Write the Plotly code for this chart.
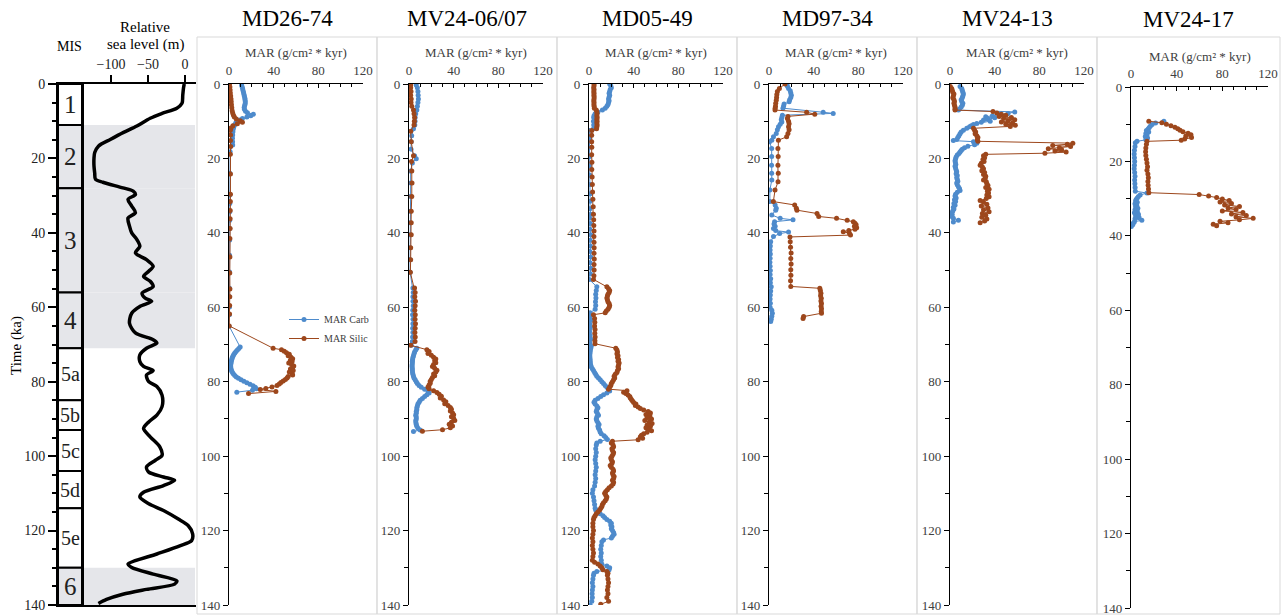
import plotly.graph_objects as go

W, H = 1283, 616

# ---------------- Marine isotope stages and sea level ----------------
mis_names = ["1", "2", "3", "4", "5a", "5b", "5c", "5d", "5e", "6"]
mis_bounds = [0, 11, 28, 56, 71, 85, 93, 104, 114, 130, 140]
mis_glacial = [False, True, True, True, False, False, False, False, False, True]

sl_age = [0, 1.1, 3, 5.2, 6.5, 7.9, 9.2, 11.3, 13, 14.9, 16.7, 18.4, 20, 22, 24, 25.6,
          26.4, 27.9, 28.8, 29.7, 31.0, 32.8, 34.6, 36.0, 38.2, 40.0, 41.8, 43.6, 45.4,
          47.2, 49.0, 50.3, 51.7, 53.0, 54.4, 56.2, 57.5, 58.4, 59.8, 61.6, 64.3, 66.9,
          68.7, 69.6, 71.0, 72.8, 74.6, 75.9, 77.0, 78.2, 80.0, 81.3, 83.6, 86.7, 89.0,
          90.8, 92.6, 94.8, 97.5, 99.8, 101.1, 102.9, 104.3, 105.6, 106.5, 107.9, 109.7,
          111.0, 112.8, 114.6, 116.9, 118.7, 120.9, 122.7, 124.1, 126.3, 129.0, 129.9,
          131.7, 133.5, 134.4, 135.8, 137.1, 138.5, 139.6]
sl_level = [-1, -2, -3, -4, -11, -31, -47, -65, -83, -101, -117, -122, -123, -123, -122,
            -121, -111, -84, -70, -67, -77, -72, -67, -77, -75, -72, -65, -61, -67, -52,
            -43, -49, -56, -47, -43, -58, -54, -45, -61, -72, -75, -67, -43, -38, -52,
            -61, -61, -56, -43, -52, -49, -38, -31, -31, -38, -49, -56, -47, -34, -31,
            -40, -52, -49, -29, -14, -29, -56, -61, -49, -29, -9, 4.5, 10.4, 9, -7, -38,
            -77, -72, -43, -11, -14, -52, -84, -106, -117]

# ---------------- Mass accumulation rates (age ka, MAR) ----------------
md2674_carb = [
    (0.3, 11.3), (0.8, 11.8), (1.3, 12.2), (1.8, 12.6), (2.3, 13.0), (2.8, 13.4), (3.3, 13.8),
    (3.8, 14.2), (4.3, 14.4), (4.8, 14.6), (5.3, 14.5), (5.8, 14.0), (6.3, 13.6), (6.8, 13.8),
    (7.3, 14.8), (7.7, 16.5), (8.1, 21.8), (8.5, 19.5), (8.9, 16.0), (9.3, 12.0), (9.7, 9.5),
    (10.1, 7.5), (10.5, 6.0), (11.0, 5.0), (11.5, 4.3), (12.0, 3.9), (12.8, 3.5), (13.7, 3.3),
    (14.6, 3.1), (15.5, 3.2), (16.4, 3.3), (18.2, 1.0), (24.0, 0.8), (29.8, 0.7), (32.1, 0.7),
    (34.3, 0.7), (36.6, 0.6), (38.8, 0.6), (41.9, 0.6), (46.0, 0.5), (50.5, 0.5), (54.9, 0.5),
    (57.2, 0.4), (59.9, 0.4), (62.0, 0.3), (65.0, 0.0), (70.7, 10.0), (71.1, 8.8), (71.5, 7.5),
    (71.9, 6.3), (72.3, 5.2), (72.7, 4.3), (73.1, 3.6), (73.5, 3.0), (73.9, 2.6), (74.3, 2.2),
    (74.7, 1.9), (75.1, 1.7), (75.5, 1.5), (75.9, 1.5), (76.3, 1.6), (76.7, 1.9), (77.1, 2.4),
    (77.5, 3.1), (77.9, 4.0), (78.3, 5.2), (78.7, 6.6), (79.1, 8.5), (79.5, 10.8), (79.9, 13.3),
    (80.3, 16.0), (80.7, 18.8), (81.1, 21.5), (81.5, 23.5), (81.9, 24.5), (82.3, 21.0), (82.8, 7.0)]
md2674_silic = [
    (0.0, 0.5), (0.8, 0.8), (1.6, 1.0), (2.4, 1.2), (3.2, 1.5), (4.0, 1.8), (4.8, 2.0), (5.6, 2.2),
    (6.4, 2.5), (7.2, 2.8), (7.8, 3.3), (8.4, 4.0), (8.9, 4.8), (9.4, 6.5), (9.9, 10.0),
    (10.3, 12.0), (10.7, 7.5), (11.2, 3.5), (11.8, 1.8), (12.4, 1.2), (13.7, 1.4), (15.2, 1.3),
    (16.8, 1.5), (18.9, 1.2), (24.2, 1.3), (29.6, 1.3), (31.6, 1.2), (34.0, 1.1), (36.2, 1.0),
    (38.8, 1.0), (41.5, 0.8), (46.5, 0.8), (50.8, 0.7), (55.1, 0.8), (57.2, 0.7), (59.5, 0.6),
    (61.8, 0.5), (65.0, 0.2), (71.0, 39.5), (71.4, 47.0), (71.8, 49.5), (72.2, 51.5), (72.6, 54.0),
    (73.0, 53.0), (73.4, 55.5), (73.8, 57.0), (74.2, 55.0), (74.6, 56.5), (75.0, 53.5), (75.4, 56.0),
    (75.8, 58.0), (76.2, 57.0), (76.6, 55.0), (77.0, 57.5), (77.4, 54.0), (77.8, 56.5), (78.2, 57.0),
    (78.6, 53.0), (79.0, 52.0), (79.4, 50.5), (79.8, 48.5), (80.2, 46.5), (80.6, 45.0), (81.0, 43.0),
    (81.4, 38.5), (81.8, 33.0), (82.1, 28.0), (82.6, 42.0), (83.2, 17.5)]

mv2406_carb = [
    (0.3, 6.5), (1.0, 7.5), (2.0, 8.0), (3.0, 8.2), (4.0, 8.4), (5.0, 8.0), (6.0, 7.5), (7.0, 7.0),
    (8.0, 6.0), (9.0, 5.5), (10.0, 5.4), (11.0, 5.2), (12.0, 4.0), (13.9, 2.4), (15.5, 2.0),
    (17.5, 1.8), (19.3, 5.0), (20.1, 6.5), (21.2, 3.0), (23.4, 1.5), (26.6, 1.5), (30.2, 1.3),
    (34.2, 1.2), (37.3, 1.2), (40.5, 1.2), (44.0, 1.0), (47.2, 1.0), (50.6, 1.0), (54.8, 3.5),
    (56.0, 3.8), (57.2, 3.5), (58.4, 3.6), (59.6, 3.8), (60.8, 3.4), (62.0, 3.2), (63.2, 3.6),
    (64.4, 3.5), (65.6, 3.3), (66.8, 3.5), (68.0, 3.2), (69.2, 3.0), (70.2, 2.0), (71.0, 7.0),
    (71.5, 6.0), (72.0, 5.0), (72.5, 4.5), (73.0, 4.0), (73.5, 3.5), (74.0, 3.2), (74.5, 3.0),
    (75.0, 3.0), (75.5, 2.8), (76.0, 2.8), (76.5, 3.0), (77.0, 3.0), (77.5, 3.2), (78.0, 3.5),
    (78.5, 4.0), (79.0, 4.5), (79.5, 5.5), (80.0, 6.5), (80.5, 7.5), (81.0, 9.0), (81.5, 11.0),
    (82.0, 14.0), (82.5, 17.0), (83.0, 18.0), (83.5, 16.0), (84.0, 14.0), (84.5, 12.0), (85.0, 10.0),
    (85.5, 9.0), (86.0, 8.0), (86.5, 7.5), (87.0, 7.0), (87.5, 7.0), (88.0, 6.5), (88.5, 6.5),
    (89.0, 6.0), (89.5, 6.5), (90.0, 6.5), (90.5, 6.0), (91.0, 6.2), (91.5, 6.5), (92.0, 7.0),
    (92.5, 8.0), (93.0, 10.0), (93.4, 4.0)]
mv2406_silic = [
    (0.3, 1.5), (1.0, 1.5), (2.0, 1.8), (3.0, 1.5), (4.0, 2.0), (5.0, 1.8), (6.0, 2.5), (7.0, 4.0),
    (8.0, 4.5), (9.0, 5.0), (10.0, 4.8), (11.0, 4.5), (12.7, 1.5), (15.5, 2.0), (19.3, 4.0),
    (20.8, 2.2), (23.4, 2.5), (26.6, 2.7), (30.2, 2.5), (34.2, 2.0), (37.3, 2.0), (40.5, 2.0),
    (44.0, 1.5), (47.2, 1.5), (50.6, 1.2), (54.8, 5.0), (56.0, 5.5), (57.2, 5.2), (58.4, 5.8),
    (59.6, 5.5), (60.8, 5.2), (62.0, 5.6), (63.2, 5.4), (64.4, 5.8), (65.6, 5.5), (66.8, 5.3),
    (68.0, 5.6), (69.2, 5.4), (70.2, 1.5), (71.4, 16.0), (71.9, 18.0), (72.4, 17.0), (72.9, 20.0),
    (73.4, 22.0), (73.9, 24.0), (74.4, 23.0), (74.9, 24.0), (75.4, 22.0), (75.9, 21.0), (76.4, 23.0),
    (76.9, 25.0), (77.4, 24.0), (77.9, 22.0), (78.4, 23.0), (78.9, 21.0), (79.4, 20.0), (79.9, 19.0),
    (80.4, 19.0), (80.9, 18.0), (81.4, 17.0), (81.9, 18.0), (82.4, 22.0), (82.9, 25.0), (83.4, 27.0),
    (83.9, 29.0), (84.4, 28.0), (84.9, 31.0), (85.4, 33.0), (85.9, 32.0), (86.4, 35.0), (86.9, 37.0),
    (87.4, 38.0), (87.9, 37.0), (88.4, 39.0), (88.9, 40.0), (89.4, 38.0), (89.9, 40.0), (90.4, 41.0),
    (90.9, 38.0), (91.4, 36.0), (91.9, 39.0), (92.4, 37.0), (92.9, 30.0), (93.3, 12.0)]

md0549_carb = [
    (0.0, 18.5), (0.5, 19.5), (1.0, 20.0), (1.5, 19.0), (2.0, 18.5), (2.5, 18.0), (3.0, 18.5),
    (3.5, 18.0), (4.0, 17.5), (4.5, 18.0), (5.0, 17.5), (5.5, 17.0), (6.0, 16.0), (6.5, 14.5),
    (7.0, 12.0), (7.5, 8.0), (8.0, 5.5), (8.5, 4.5), (9.0, 4.2), (10.0, 4.0), (11.0, 4.2),
    (12.0, 4.0), (12.5, 0.3), (14.5, 0.5), (17.0, 0.5), (19.5, 0.6), (22.0, 0.6), (24.5, 0.8),
    (27.0, 1.0), (29.5, 1.2), (31.5, 1.0), (33.5, 0.8), (35.0, 1.5), (36.0, 0.5), (37.5, 1.2),
    (39.0, 0.8), (40.5, 1.5), (42.0, 1.0), (43.5, 1.2), (45.0, 0.8), (46.5, 1.5), (48.0, 1.0),
    (49.5, 1.5), (51.0, 1.2), (52.5, 0.2), (54.5, 7.0), (55.5, 6.5), (56.5, 6.0), (57.5, 6.2),
    (58.5, 5.8), (59.5, 6.0), (60.5, 5.5), (61.5, 1.0), (62.5, 0.8), (63.5, 1.5), (64.5, 0.8),
    (65.5, 1.2), (66.5, 0.6), (67.5, 1.0), (68.5, 1.5), (69.5, 0.8), (70.5, 2.0), (71.0, 1.5),
    (71.5, 1.2), (72.0, 1.0), (72.5, 0.8), (73.0, 0.7), (73.5, 0.8), (74.0, 1.0), (74.5, 1.0),
    (75.0, 1.2), (75.5, 1.5), (76.0, 2.0), (76.5, 3.0), (77.0, 4.0), (77.5, 5.0), (78.0, 6.0),
    (78.5, 7.0), (79.0, 8.5), (79.5, 10.0), (80.0, 11.5), (80.5, 13.0), (81.0, 14.5), (81.5, 16.0),
    (82.0, 17.5), (82.5, 18.5), (83.0, 16.0), (83.5, 13.0), (84.0, 10.5), (84.5, 8.0), (85.0, 5.5),
    (85.5, 4.5), (86.0, 5.5), (86.5, 7.0), (87.0, 8.0), (87.5, 7.0), (88.0, 6.5), (88.5, 7.5),
    (89.0, 8.5), (89.5, 7.0), (90.0, 6.5), (90.5, 7.0), (91.0, 8.0), (91.5, 9.0), (92.0, 8.0),
    (92.5, 8.5), (93.0, 9.5), (93.5, 10.0), (94.0, 11.0), (94.5, 13.5), (95.0, 15.0), (95.5, 16.5),
    (96.0, 10.0), (96.5, 7.0), (97.0, 6.5), (98.0, 6.0), (99.0, 6.5), (100.0, 6.0), (101.0, 5.5),
    (102.0, 6.0), (103.0, 6.5), (104.0, 6.0), (105.0, 5.5), (106.0, 6.0), (107.0, 5.5), (108.0, 5.0),
    (109.0, 3.5), (110.0, 3.0), (111.0, 4.0), (112.0, 4.5), (113.0, 5.0), (114.0, 5.5), (114.5, 6.0),
    (115.0, 8.0), (115.5, 10.0), (116.0, 12.5), (116.5, 14.0), (117.0, 16.0), (117.5, 18.5),
    (118.0, 20.0), (118.5, 19.5), (119.0, 20.5), (119.5, 20.0), (120.0, 21.0), (120.5, 22.0),
    (121.0, 22.5), (121.5, 21.0), (122.0, 20.0), (122.5, 13.0), (123.0, 11.5), (124.0, 11.0),
    (125.0, 10.5), (126.0, 11.0), (127.0, 10.5), (128.0, 11.0), (129.0, 11.5), (129.5, 16.0),
    (130.0, 18.5), (130.5, 18.0), (131.0, 7.0), (131.5, 4.5), (132.0, 4.0), (133.0, 3.5),
    (134.0, 3.0), (135.0, 3.5), (136.0, 3.0), (137.0, 2.8), (138.0, 3.0), (139.0, 2.5), (140.0, 1.0)]
md0549_silic = [
    (0.0, 4.5), (0.5, 4.5), (1.0, 4.2), (1.5, 4.5), (2.0, 4.3), (2.5, 4.5), (3.0, 4.4), (3.5, 4.6),
    (4.0, 4.5), (4.5, 4.3), (5.0, 4.5), (5.5, 4.4), (6.0, 4.6), (6.5, 4.8), (7.0, 6.5), (7.5, 7.0),
    (8.0, 7.2), (8.5, 7.0), (9.0, 7.3), (9.5, 7.0), (10.0, 7.2), (10.5, 7.0), (11.0, 7.3),
    (11.5, 7.0), (12.0, 6.8), (12.5, 2.5), (13.8, 2.4), (15.5, 2.4), (17.0, 2.5), (19.0, 2.4),
    (21.0, 2.6), (23.0, 2.5), (25.0, 2.8), (27.0, 3.0), (29.0, 3.2), (31.0, 3.5), (33.0, 3.8),
    (35.0, 4.0), (36.5, 4.2), (38.0, 4.3), (39.5, 4.5), (41.0, 4.4), (42.5, 4.5), (44.0, 4.6),
    (45.5, 4.5), (47.0, 4.7), (48.5, 4.5), (50.0, 4.6), (51.5, 4.4), (52.5, 4.0), (54.5, 16.0),
    (55.0, 17.5), (55.5, 18.5), (56.0, 18.0), (56.5, 17.0), (57.0, 16.5), (57.5, 16.0), (58.0, 16.5),
    (58.5, 17.0), (59.0, 18.0), (59.5, 18.5), (60.0, 18.0), (60.5, 17.0), (61.0, 15.5), (61.5, 14.5),
    (62.0, 4.0), (63.0, 5.0), (64.0, 5.2), (65.0, 5.0), (66.0, 5.4), (67.0, 5.2), (68.0, 5.5),
    (69.0, 5.3), (69.8, 5.4), (71.0, 24.0), (71.5, 25.0), (72.0, 25.5), (72.5, 25.0), (73.0, 26.0),
    (73.5, 25.5), (74.0, 26.5), (74.5, 26.0), (75.0, 27.0), (75.5, 26.5), (76.0, 26.0), (76.5, 26.5),
    (77.0, 25.5), (77.5, 25.0), (78.0, 23.5), (78.5, 22.5), (79.0, 23.0), (79.5, 22.0), (80.0, 21.0),
    (80.5, 20.0), (81.0, 19.5), (81.5, 18.5), (82.0, 17.5), (82.4, 34.0), (82.8, 31.0), (83.2, 33.0),
    (83.6, 35.0), (84.0, 36.5), (84.4, 37.0), (84.8, 38.0), (85.2, 39.0), (85.6, 40.0), (86.0, 42.0),
    (86.4, 41.5), (86.8, 44.0), (87.2, 46.0), (87.6, 49.0), (88.0, 53.0), (88.4, 55.0), (88.8, 51.0),
    (89.2, 54.5), (89.6, 52.0), (90.0, 56.0), (90.4, 50.0), (90.8, 54.0), (91.2, 56.5), (91.6, 52.0),
    (92.0, 55.0), (92.4, 51.0), (92.8, 54.0), (93.2, 56.0), (93.6, 52.0), (94.0, 49.0), (94.4, 47.0),
    (94.8, 46.0), (95.2, 48.0), (95.6, 44.0), (96.0, 21.0), (96.5, 20.0), (97.0, 21.5), (97.5, 22.0),
    (98.0, 20.5), (98.5, 21.0), (99.0, 22.0), (99.5, 21.5), (100.0, 20.5), (100.5, 19.5),
    (101.0, 20.0), (101.5, 21.0), (102.0, 20.5), (102.5, 19.0), (103.0, 20.0), (103.5, 21.5),
    (104.0, 22.0), (104.5, 21.0), (105.0, 21.5), (105.5, 22.5), (106.0, 22.0), (106.5, 21.0),
    (107.0, 22.0), (107.5, 21.5), (108.0, 20.0), (108.5, 18.0), (109.0, 16.5), (109.5, 15.0),
    (110.0, 14.0), (110.5, 15.0), (111.0, 16.0), (111.5, 15.5), (112.0, 14.5), (112.5, 13.0),
    (113.0, 12.0), (113.5, 11.5), (114.0, 10.5), (114.5, 9.5), (115.0, 8.0), (115.5, 6.5),
    (116.0, 5.5), (116.5, 4.5), (117.0, 4.0), (118.0, 3.5), (119.0, 3.5), (120.0, 4.0), (121.0, 3.5),
    (122.0, 3.0), (123.0, 3.5), (124.0, 3.0), (125.0, 3.5), (126.0, 4.0), (127.0, 3.5), (128.0, 3.0),
    (128.5, 5.0), (129.0, 8.0), (129.5, 10.0), (130.0, 11.5), (130.5, 12.5), (131.0, 16.0),
    (131.5, 17.0), (132.0, 16.5), (133.0, 17.0), (134.0, 17.5), (135.0, 17.0), (136.0, 16.5),
    (137.0, 17.0), (138.0, 16.0), (139.0, 17.5), (139.8, 10.5)]

md9734_carb = [
    (0.0, 16.0), (0.6, 16.5), (1.2, 17.5), (1.8, 19.0), (2.4, 19.5), (3.0, 20.0), (3.6, 19.5),
    (4.2, 18.5), (4.8, 18.0), (5.4, 13.5), (6.0, 13.0), (6.5, 12.5), (7.6, 48.5), (7.9, 57.5),
    (8.4, 12.0), (9.0, 11.5), (9.6, 11.0), (10.2, 11.5), (10.8, 10.0), (11.5, 8.5), (12.3, 7.5),
    (13.3, 6.5), (14.2, 4.0), (15.1, 2.5), (15.5, 0.5), (17.3, 2.4), (19.5, 2.4), (21.8, 2.3),
    (24.0, 2.4), (25.8, 2.5), (28.5, 0.8), (31.6, 0.8), (32.5, 5.5), (33.4, 6.5), (33.9, 6.0),
    (35.2, 2.5), (36.1, 10.0), (36.5, 21.5), (37.0, 5.0), (37.6, 4.5), (38.2, 5.5), (38.8, 4.0),
    (39.4, 6.0), (39.8, 17.5), (40.2, 9.5), (41.0, 4.0), (42.4, 1.5), (43.5, 1.2), (44.6, 1.0),
    (45.7, 1.2), (46.8, 1.0), (47.9, 0.8), (49.0, 1.0), (50.1, 1.2), (51.2, 1.0), (52.3, 1.5),
    (53.4, 1.2), (54.5, 2.0), (55.6, 1.5), (56.7, 1.2), (57.8, 1.0), (58.9, 1.2), (60.0, 1.0),
    (60.8, 2.5), (61.6, 3.0), (62.4, 2.5), (63.2, 2.0), (63.8, 1.5)]
md9734_silic = [
    (0.0, 14.3), (1.2, 9.3), (2.0, 7.5), (2.8, 7.0), (3.6, 6.8), (4.4, 6.5), (5.2, 6.0), (6.0, 5.8),
    (6.5, 5.5), (7.0, 5.4), (7.6, 33.7), (8.1, 41.0), (8.7, 17.0), (9.3, 16.5), (10.0, 17.5),
    (10.7, 18.0), (11.5, 17.5), (12.3, 18.0), (13.3, 17.0), (14.2, 15.8), (15.1, 8.4), (17.3, 8.0),
    (19.5, 8.2), (21.8, 8.0), (24.0, 8.3), (26.3, 8.1), (28.5, 5.4), (31.6, 3.9), (32.5, 23.0),
    (33.4, 24.5), (33.9, 25.0), (34.8, 43.0), (35.6, 44.5), (36.1, 60.5), (36.6, 70.0),
    (37.0, 75.5), (37.4, 77.0), (37.8, 78.0), (38.2, 76.5), (38.6, 78.5), (39.0, 77.0),
    (39.4, 71.5), (39.7, 66.5), (40.1, 72.0), (40.6, 73.0), (41.1, 18.8), (42.4, 19.0),
    (43.9, 19.3), (45.4, 19.8), (46.9, 19.5), (48.4, 19.8), (49.9, 19.5), (51.4, 19.6),
    (52.9, 19.3), (54.4, 19.5), (54.9, 45.5), (55.5, 46.0), (56.2, 46.5), (56.9, 46.2),
    (57.6, 46.8), (58.3, 46.5), (59.0, 47.0), (59.7, 46.6), (60.4, 47.0), (61.1, 46.8),
    (61.6, 47.0), (62.5, 31.0), (63.0, 30.5)]

mv2413_carb = [
    (0.7, 9.0), (1.2, 10.5), (1.7, 11.0), (2.2, 11.5), (2.7, 12.0), (3.2, 11.5), (3.7, 11.0),
    (4.2, 10.0), (4.7, 10.5), (5.2, 11.5), (5.7, 11.0), (6.2, 10.0), (6.7, 8.5), (7.0, 7.5),
    (7.5, 58.0), (7.9, 52.0), (8.2, 44.0), (8.5, 38.0), (8.8, 32.0), (9.1, 40.0), (9.4, 34.0),
    (9.7, 30.0), (10.0, 36.0), (10.3, 28.0), (10.6, 24.0), (10.9, 21.0), (11.2, 19.0), (11.5, 17.5),
    (11.9, 15.0), (12.4, 12.0), (12.9, 10.0), (13.4, 9.0), (13.9, 8.0), (14.4, 7.0), (14.9, 6.0),
    (15.2, 3.0), (15.5, 21.0), (15.9, 24.0), (16.3, 22.0), (16.7, 16.0), (17.1, 13.0), (17.5, 11.0),
    (17.9, 10.0), (18.3, 9.0), (18.7, 8.0), (19.1, 6.5), (19.6, 5.5), (20.1, 5.0), (20.6, 4.5),
    (21.1, 4.8), (21.6, 5.2), (22.1, 4.5), (22.6, 5.0), (23.1, 5.5), (23.6, 6.0), (24.1, 5.5),
    (24.6, 6.5), (25.1, 6.0), (25.6, 6.5), (26.1, 7.0), (26.6, 6.0), (27.1, 6.5), (27.6, 7.5),
    (28.1, 8.5), (28.6, 9.0), (29.1, 6.5), (29.6, 5.0), (30.1, 4.5), (30.6, 5.5), (31.1, 4.0),
    (31.6, 5.0), (32.1, 3.5), (32.6, 4.5), (33.1, 3.0), (33.6, 3.5), (34.1, 2.5), (34.6, 1.5),
    (35.1, 2.0), (35.6, 1.5), (36.1, 3.0), (36.6, 7.5), (37.1, 3.0)]
mv2413_silic = [
    (0.7, 0.3), (1.2, 1.5), (1.7, 2.0), (2.2, 2.5), (2.7, 3.5), (3.2, 3.0), (3.7, 2.5), (4.2, 3.5),
    (4.7, 4.0), (5.2, 3.5), (5.7, 4.0), (6.2, 4.5), (6.7, 4.5), (7.0, 4.5), (7.4, 38.5), (7.8, 42.0),
    (8.1, 46.0), (8.4, 50.0), (8.7, 44.0), (9.0, 55.0), (9.3, 48.0), (9.6, 58.0), (9.9, 52.0),
    (10.2, 46.0), (10.5, 56.0), (10.8, 50.0), (11.1, 58.5), (11.4, 54.0), (11.9, 21.0), (12.4, 22.0),
    (12.9, 23.0), (13.4, 22.5), (13.9, 24.0), (14.4, 25.0), (14.9, 24.5), (15.4, 25.0),
    (15.9, 110.0), (16.2, 105.0), (16.5, 92.0), (16.8, 108.0), (17.1, 98.0), (17.4, 88.0),
    (17.7, 100.0), (18.0, 94.0), (18.3, 104.0), (18.6, 85.0), (18.9, 32.0), (19.3, 30.0),
    (19.8, 31.0), (20.3, 29.5), (20.8, 30.5), (21.3, 28.0), (21.8, 27.0), (22.3, 29.0), (22.8, 30.0),
    (23.3, 28.5), (23.8, 31.0), (24.3, 30.0), (24.8, 32.0), (25.3, 31.5), (25.8, 30.0), (26.3, 32.5),
    (26.8, 33.0), (27.3, 34.0), (27.8, 32.0), (28.3, 35.0), (28.8, 33.5), (29.3, 34.5), (29.8, 33.0),
    (30.3, 35.0), (30.8, 32.5), (31.3, 27.0), (31.8, 30.0), (32.3, 33.0), (32.8, 28.0), (33.3, 34.0),
    (33.8, 30.0), (34.3, 35.0), (34.8, 29.0), (35.3, 32.0), (35.8, 28.5), (36.3, 33.0), (36.8, 31.0),
    (37.3, 27.0)]

mv2417_carb = [
    (9.2, 28.8), (9.7, 21.5), (10.1, 18.5), (10.5, 17.0), (10.9, 16.0), (11.3, 15.0), (11.7, 13.5),
    (12.1, 15.5), (12.5, 13.0), (12.9, 14.0), (13.3, 12.5), (13.7, 14.5), (14.2, 13.0), (14.6, 5.3),
    (15.0, 3.8), (16.0, 3.5), (17.0, 3.0), (18.0, 2.8), (19.0, 3.0), (20.0, 3.2), (21.0, 3.0),
    (22.0, 2.8), (23.0, 3.2), (24.0, 3.5), (25.0, 3.2), (26.0, 3.4), (27.0, 3.6), (28.0, 3.8),
    (28.5, 14.0), (29.0, 8.0), (29.4, 6.5), (29.8, 5.5), (30.2, 4.5), (30.6, 4.0), (31.0, 5.5),
    (31.4, 3.5), (31.8, 5.0), (32.2, 4.0), (32.6, 6.0), (33.0, 3.5), (33.4, 5.5), (33.8, 3.0),
    (34.2, 6.5), (34.6, 4.0), (35.0, 7.0), (35.4, 3.5), (35.8, 9.5), (36.2, 3.0), (36.6, 2.0),
    (37.0, 1.5), (37.5, 0.3)]
mv2417_silic = [
    (9.2, 15.6), (9.6, 27.0), (10.0, 31.0), (10.4, 35.0), (10.8, 38.5), (11.2, 41.0), (11.6, 43.0),
    (12.0, 45.5), (12.4, 50.0), (12.8, 52.5), (13.2, 48.0), (13.6, 53.0), (14.0, 47.0), (14.3, 44.0),
    (14.6, 14.0), (15.4, 13.5), (16.4, 13.0), (17.4, 12.8), (18.4, 13.0), (19.4, 13.5), (20.4, 14.0),
    (21.4, 14.5), (22.4, 14.0), (23.4, 14.8), (24.4, 15.2), (25.4, 14.8), (26.4, 15.0), (27.4, 15.3),
    (28.4, 15.6), (28.9, 59.7), (29.3, 68.0), (29.7, 75.0), (30.1, 80.0), (30.5, 86.0), (30.9, 78.0),
    (31.3, 88.0), (31.7, 82.0), (32.1, 95.0), (32.5, 85.0), (32.9, 92.0), (33.3, 80.0), (33.7, 98.0),
    (34.1, 88.0), (34.5, 101.0), (34.9, 92.0), (35.3, 107.0), (35.7, 95.0), (36.1, 78.0),
    (36.5, 85.0), (36.9, 72.0), (37.3, 75.0)]

core_names = ["MD26-74", "MV24-06/07", "MD05-49", "MD97-34", "MV24-13", "MV24-17"]
core_carb = [md2674_carb, mv2406_carb, md0549_carb, md9734_carb, mv2413_carb, mv2417_carb]
core_silic = [md2674_silic, mv2406_silic, md0549_silic, md9734_silic, mv2413_silic, mv2417_silic]

# ---------------- styling and geometry (pixels) ----------------
FONT = "Liberation Serif"
BLUE = "#4e8bcc"
BROWN = "#9d471c"
GRAY = "#e5e6ea"
FRAME = "#d9d9d9"
TICKC = "#404040"

def fx(px):
    return px / W

def fy(py):
    return 1 - py / H

# panel axis geometry: (x of MAR=0, x of MAR=120, y top, y bottom)
panel_geom = [(229, 363, 84, 605), (409, 543, 84, 605), (589, 723, 84, 605),
              (769, 903, 84, 605), (950, 1084, 84, 605), (1131, 1268, 87, 608)]
frame_x = [197, 377, 557, 737, 917, 1097, 1280]

fig = go.Figure()

# sea level curve
fig.add_trace(go.Scatter(x=sl_level, y=sl_age, mode="lines", xaxis="x", yaxis="y",
                         line=dict(color="black", width=3.5, shape="spline", smoothing=0.8),
                         showlegend=False, hoverinfo="skip"))

layout = dict(
    template="none",
    width=W, height=H, autosize=False,
    margin=dict(l=0, r=0, t=0, b=0, pad=0, autoexpand=False),
    paper_bgcolor="white", plot_bgcolor="white",
    font=dict(family=FONT, color="black"),
    showlegend=True,
    legend=dict(x=fx(284), y=fy(305), xanchor="left", yanchor="top",
                font=dict(family=FONT, size=10, color=TICKC),
                bgcolor="rgba(0,0,0,0)", itemwidth=30, tracegroupgap=0),
)

# sea level axis
layout["xaxis"] = dict(domain=[fx(82), fx(196)], anchor="y", side="top",
                       range=[-139.2, 14.9], tick0=0, dtick=50, automargin=False,
                       ticks="outside", ticklen=7, tickwidth=2, tickcolor="black",
                       showline=True, linewidth=2, linecolor="black", mirror=True,
                       showgrid=False, zeroline=False,
                       tickfont=dict(family=FONT, size=14, color="#222"))
# MIS column axis
layout["xaxis2"] = dict(domain=[fx(58), fx(82)], anchor="y", side="top", range=[0, 1],
                        showticklabels=False, ticks="", showline=True, linewidth=2,
                        automargin=False,
                        linecolor="black", mirror=True, showgrid=False, zeroline=False)
layout["yaxis"] = dict(domain=[fy(605), fy(84)], anchor="x2", range=[140, 0],
                       tick0=0, dtick=20, ticks="outside", ticklen=8, tickwidth=1.5,
                       tickcolor="black", automargin=False,
                       minor=dict(dtick=5, tick0=0, ticks="outside", ticklen=4,
                                  tickwidth=1.5, tickcolor="black"),
                       showline=True, linewidth=2, linecolor="black", mirror=True,
                       showgrid=False, zeroline=False,
                       tickfont=dict(family=FONT, size=14, color="#222"))

for i, (name, carb, silic) in enumerate(zip(core_names, core_carb, core_silic)):
    k = i + 3
    x0, x1, yt, yb = panel_geom[i]
    layout[f"xaxis{k}"] = dict(domain=[fx(x0), fx(x1)], anchor=f"y{k}", side="top",
                               range=[0, 120], tick0=0, dtick=40, automargin=False,
                               ticks="inside", ticklen=4, tickwidth=1, tickcolor="black",
                               minor=dict(dtick=10, tick0=0, ticks="inside", ticklen=3,
                                          tickwidth=1, tickcolor="black"),
                               showline=True, linewidth=1.3, linecolor="black",
                               showgrid=False, zeroline=False, ticklabelstandoff=3,
                               tickfont=dict(family=FONT, size=13, color=TICKC))
    layout[f"yaxis{k}"] = dict(domain=[fy(yb), fy(yt)], anchor=f"x{k}", range=[140, 0],
                               tick0=0, dtick=20, ticks="outside", ticklen=5, tickwidth=1,
                               tickcolor="black", automargin=False,
                               minor=dict(dtick=10, tick0=0, ticks="outside", ticklen=4,
                                          tickwidth=1, tickcolor="black"),
                               showline=True, linewidth=1.3, linecolor="black",
                               showgrid=False, zeroline=False,
                               tickfont=dict(family=FONT, size=13, color=TICKC))
    for series, label, color in ((carb, "MAR Carb", BLUE), (silic, "MAR Silic", BROWN)):
        ages = [a for a, _ in series]
        vals = [v for _, v in series]
        fig.add_trace(go.Scatter(x=vals, y=ages, mode="lines+markers", name=label,
                                 xaxis=f"x{k}", yaxis=f"y{k}",
                                 line=dict(color=color, width=1),
                                 marker=dict(color=color, size=5, symbol="circle"),
                                 showlegend=(i == 0), hoverinfo="skip"))

fig.update_layout(**layout)

shapes = []
# panel frames
for i in range(6):
    shapes.append(dict(type="rect", xref="paper", yref="paper",
                       x0=fx(frame_x[i]), x1=fx(frame_x[i + 1]), y0=fy(614), y1=fy(37),
                       line=dict(color=FRAME, width=1), fillcolor="rgba(0,0,0,0)",
                       layer="below"))
# glacial shading behind the sea level curve, and MIS boxes
for j, name in enumerate(mis_names):
    top, bot = mis_bounds[j], mis_bounds[j + 1]
    if mis_glacial[j]:
        shapes.append(dict(type="rect", xref="paper", yref="y", x0=fx(82), x1=fx(195),
                           y0=top, y1=bot, line=dict(width=0), fillcolor=GRAY,
                           layer="below"))
    shapes.append(dict(type="rect", xref="x2", yref="y", x0=0, x1=1, y0=top, y1=bot,
                       line=dict(color="black", width=2),
                       fillcolor=GRAY if mis_glacial[j] else "white", layer="below"))

annotations = []
for j, name in enumerate(mis_names):
    mid = (mis_bounds[j] + mis_bounds[j + 1]) / 2
    annotations.append(dict(xref="x2", yref="y", x=0.5, y=mid, text=name, showarrow=False,
                            font=dict(family=FONT, size=25 if len(name) == 1 else 20,
                                      color="#222")))

def label(x, y, text, size, color="black", angle=0):
    annotations.append(dict(xref="paper", yref="paper", x=fx(x), y=fy(y), text=text,
                            showarrow=False, xanchor="center", yanchor="middle",
                            textangle=angle, font=dict(family=FONT, size=size, color=color)))

label(69, 46, "MIS", 14)
label(145, 27, "Relative", 15)
label(145, 45, "sea level (m)", 15)
label(16, 346, "Time (ka)", 15, angle=-90)

for i, name in enumerate(core_names):
    x0, x1, yt, yb = panel_geom[i]
    cx = (frame_x[i] + frame_x[i + 1]) / 2
    label(cx, 18 + (2 if i == 5 else 0), name, 23)
    label((x0 + x1) / 2, yt - 31, "MAR (g/cm² * kyr)", 13, color=TICKC)

fig.update_layout(shapes=shapes, annotations=annotations)

fig.write_html("out.html")
